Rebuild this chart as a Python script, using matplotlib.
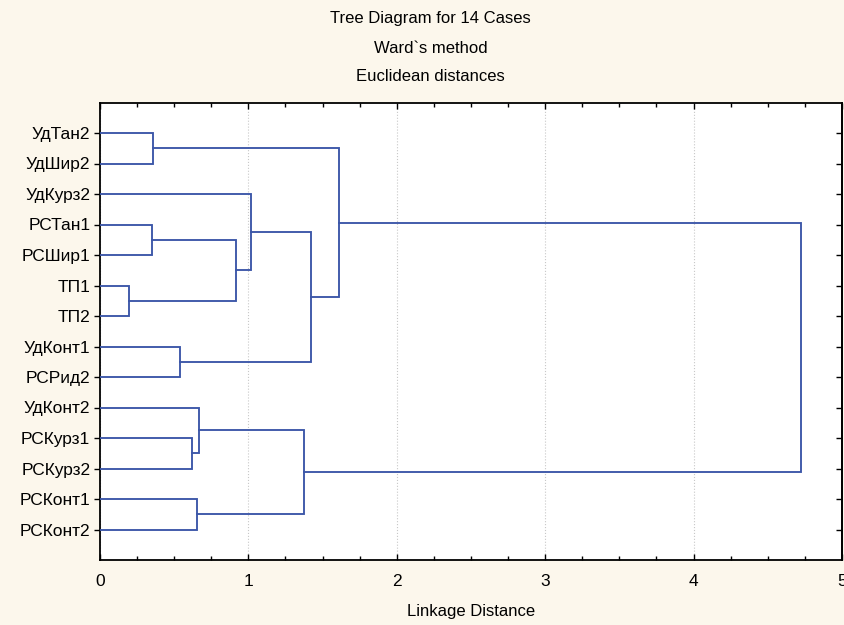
import matplotlib
matplotlib.use('Agg')
import matplotlib.pyplot as plt
from matplotlib.ticker import MultipleLocator

# leaf labels, top to bottom
leaves = ['УдТан2', 'УдШир2', 'УдКурз2', 'РСТан1', 'РСШир1', 'ТП1', 'ТП2',
          'УдКонт1', 'РСРид2', 'УдКонт2', 'РСКурз1', 'РСКурз2', 'РСКонт1', 'РСКонт2']

# merges: (child a, child b, linkage distance); leaves are 0..13, new clusters 14..
merge_a = [5, 3, 0, 7, 10, 12, 9, 15, 2, 20, 22, 16, 25]
merge_b = [6, 4, 1, 8, 11, 13, 18, 14, 21, 19, 17, 24, 23]
merge_dist = [0.195, 0.352, 0.36, 0.539, 0.622, 0.655, 0.669,
              0.914, 1.015, 1.376, 1.425, 1.61, 4.725]

BG = '#fcf7ec'
LINE = '#3b56a8'
SANS = ['Liberation Sans Narrow', 'Liberation Sans', 'DejaVu Sans']

fig = plt.figure(figsize=(8.44, 6.25), dpi=100, facecolor=BG)
ax = fig.add_axes([0.1185, 0.104, 0.879, 0.732])
ax.set_facecolor('white')

n = len(leaves)
ypos = {i: i + 1.0 for i in range(n)}
xpos = {i: 0.0 for i in range(n)}
for k, (a, b, d) in enumerate(zip(merge_a, merge_b, merge_dist)):
    node = n + k
    ax.plot([xpos[a], d, d, xpos[b]], [ypos[a], ypos[a], ypos[b], ypos[b]],
            color=LINE, lw=1.35, solid_joinstyle='miter', zorder=3)
    ypos[node] = (ypos[a] + ypos[b]) / 2
    xpos[node] = d

ax.set_xlim(0, 5)
ax.set_ylim(n + 1, 0)
ax.set_yticks(range(1, n + 1))
ax.set_yticklabels(leaves, fontsize=12.5, family=['Liberation Sans', 'DejaVu Sans'])
ax.tick_params(axis='y', direction='out', length=4, width=1, pad=3, right=False)

# inward ticks on the right spine
ax2 = ax.secondary_yaxis('right')
ax2.set_yticks(range(1, n + 1))
ax2.set_yticklabels([])
ax2.tick_params(direction='in', length=4, width=1)

ax.xaxis.set_major_locator(MultipleLocator(1))
ax.xaxis.set_minor_locator(MultipleLocator(0.25))
ax.tick_params(axis='x', which='both', direction='in', top=True, width=1)
ax.tick_params(axis='x', which='major', length=4, pad=10)
ax.tick_params(axis='x', which='minor', length=3)
for lab in ax.get_xticklabels():
    lab.set_fontsize(12.5)
    lab.set_family(SANS)

ax.grid(axis='x', which='major', color='#c8c8c8', linestyle=':', lw=0.8)
for s in ax.spines.values():
    s.set_linewidth(1.3)
ax2.spines['right'].set_linewidth(1.3)

ax.set_xlabel('Linkage Distance', fontsize=12, family=SANS, labelpad=11)

fig.text(0.51, 0.970, 'Tree Diagram for 14 Cases', ha='center', va='center',
         fontsize=12, family=SANS)
fig.text(0.51, 0.922, 'Ward`s method', ha='center', va='center',
         fontsize=12, family=SANS)
fig.text(0.51, 0.877, 'Euclidean distances', ha='center', va='center',
         fontsize=12, family=SANS)

fig.savefig('out.png', dpi=100, facecolor=BG)
